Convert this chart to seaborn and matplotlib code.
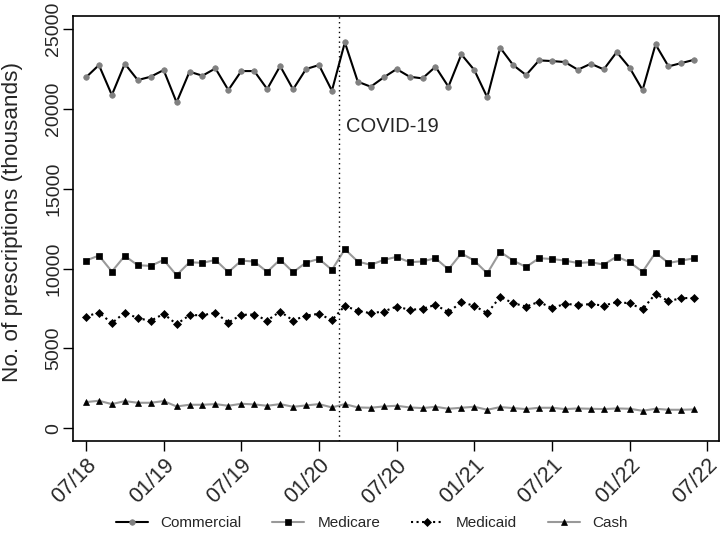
import numpy as np
import pandas as pd
import matplotlib.pyplot as plt
import seaborn as sns

# Monthly prescriptions (thousands), 07/2018 - 06/2022
months = pd.date_range("2018-07-01", periods=48, freq="MS").strftime("%m/%y").tolist()

commercial = [21975, 22747, 20870, 22830, 21808, 22016, 22434, 20411, 22330, 22080,
              22538, 21183, 22371, 22371, 21245, 22685, 21225, 22497, 22747, 21141,
              24165, 21704, 21391, 21975, 22497, 22016, 21912, 22643, 21391, 23415,
              22434, 20724, 23832, 22747, 22121, 23039, 22998, 22935, 22455, 22830,
              22476, 23560, 22580, 21183, 24040, 22664, 22872, 23081]
medicare = [10502, 10815, 9814, 10795, 10210, 10169, 10544, 9585, 10398, 10357,
            10544, 9773, 10502, 10440, 9793, 10565, 9773, 10377, 10607, 9919,
            11212, 10440, 10232, 10544, 10732, 10400, 10450, 10650, 9950, 10950,
            10500, 9700, 11050, 10500, 10100, 10650, 10600, 10500, 10350, 10400,
            10250, 10750, 10400, 9800, 11000, 10350, 10500, 10650]
medicaid = [6998, 7248, 6581, 7248, 6894, 6727, 7165, 6519, 7082, 7082,
            7228, 6623, 7103, 7124, 6748, 7311, 6748, 7061, 7165, 6769,
            7666, 7353, 7207, 7311, 7624, 7416, 7478, 7728, 7270, 7895,
            7666, 7207, 8230, 7832, 7624, 7916, 7520, 7791, 7728, 7770,
            7687, 7895, 7832, 7457, 8420, 7960, 8150, 8160]
cash = [1638, 1721, 1512, 1700, 1596, 1596, 1700, 1366, 1471, 1471,
        1512, 1408, 1533, 1492, 1408, 1512, 1345, 1429, 1512, 1304,
        1512, 1304, 1283, 1366, 1408, 1304, 1262, 1345, 1220, 1283,
        1345, 1158, 1325, 1262, 1200, 1283, 1283, 1200, 1241, 1220,
        1200, 1241, 1220, 1095, 1220, 1158, 1158, 1179]

tick_pos = [0, 6, 12, 18, 24, 30, 36, 42, 48]
tick_labels = ["07/18", "01/19", "07/19", "01/20", "07/20", "01/21", "07/21", "01/22", "07/22"]
covid_x = 19.55

sns.set_style("ticks")
plt.rcParams['font.family'] = ['Liberation Sans', 'DejaVu Sans']

fig = plt.figure(figsize=(7.22, 5.44), dpi=100)
ax = fig.add_axes([0.1015, 0.1893, 0.8943, 0.7813])

x = np.arange(len(months))
styles = [
    ("Commercial", commercial, "black", "-", "o", "#808080", 4.0),
    ("Medicare", medicare, "#999999", "-", "s", "black", 4.2),
    ("Medicaid", medicaid, "black", ":", "D", "black", 4.2),
    ("Cash", cash, "#999999", "-", "^", "black", 4.8),
]
for name, vals, lc, ls, mk, mc, ms in styles:
    sns.lineplot(x=x, y=vals, ax=ax, color=lc, linestyle=ls, linewidth=1.5,
                 marker=mk, markersize=ms, markerfacecolor=mc, markeredgecolor=mc,
                 markeredgewidth=0.5, label=name)

ax.axvline(covid_x, color="black", linestyle=(0, (1, 2.5)), linewidth=1.0)
ax.text(covid_x + 0.5, 18900, "COVID-19", fontsize=14.5, va="center", ha="left")

ax.set_xlim(-0.98, 48.9)
ax.set_ylim(-800, 25820)
ax.set_yticks([0, 5000, 10000, 15000, 20000, 25000])
ax.set_yticklabels(["0", "5000", "10000", "15000", "20000", "25000"], rotation=90, va="center")
ax.set_xticks(tick_pos)
ax.set_xticklabels(tick_labels, rotation=45, ha="right", rotation_mode="anchor")
ax.tick_params(length=7, width=1, color="black", direction="out")
ax.tick_params(axis="y", labelsize=14, pad=1)
ax.tick_params(axis="x", labelsize=15.5, pad=3)
ax.set_ylabel("No. of prescriptions (thousands)", fontsize=16.2)
ax.yaxis.set_label_coords(-0.078, 0.515)
ax.set_xlabel("")
for s in ax.spines.values():
    s.set_visible(True)
    s.set_color("black")
    s.set_linewidth(1.2)

handles, labels = ax.get_legend_handles_labels()
ax.get_legend().remove()
fig.legend(handles, labels, loc="center", bbox_to_anchor=(0.515, 0.038), ncol=4,
           frameon=False, fontsize=11, handlelength=2.1, handletextpad=0.85,
           columnspacing=2.0)

fig.savefig("out.png", dpi=100)
